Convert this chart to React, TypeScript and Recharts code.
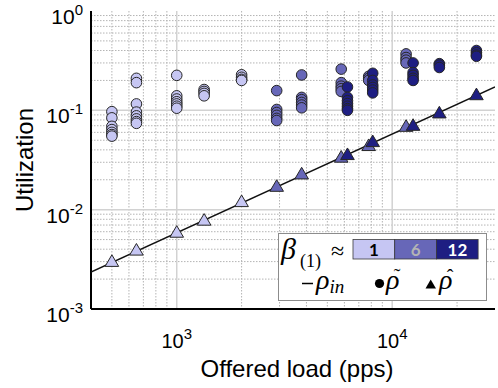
import React from 'react';
import { ScatterChart, Scatter, XAxis, YAxis, CartesianGrid } from 'recharts';

// ---- data ----
const loadsLight = [500, 650, 1000, 1340, 2000];
const loadsMed = [2910, 3800, 5800, 7780, 11600];
const loadsDark = [6200, 8120, 12500, 16550, 24600];

// measured utilization (circles), one list per load
const rhoTildeLight = [
  [0.097, 0.084, 0.069, 0.064, 0.06, 0.057, 0.055],
  [0.21, 0.19, 0.116, 0.096, 0.088, 0.082, 0.077, 0.074],
  [0.225, 0.14, 0.13, 0.122, 0.116, 0.11, 0.105],
  [0.162, 0.155, 0.148, 0.14],
  [0.228, 0.215, 0.205, 0.2],
];
const rhoTildeMed = [
  [0.158, 0.102, 0.095, 0.089, 0.083, 0.079],
  [0.227, 0.135, 0.128, 0.12, 0.113, 0.106],
  [0.26, 0.19, 0.175, 0.165, 0.155],
  [0.22, 0.21, 0.2],
  [0.37, 0.34, 0.32, 0.3],
];
const rhoTildeDark = [
  [0.172, 0.135, 0.125, 0.117, 0.11, 0.104, 0.1],
  [0.236, 0.2, 0.18, 0.17, 0.16, 0.15],
  [0.3, 0.24, 0.225, 0.21, 0.2],
  [0.295, 0.285, 0.27],
  [0.4, 0.38, 0.36, 0.35],
];

// estimated utilization (triangles)
const rhoHatLight = [0.003, 0.0039, 0.0059, 0.0078, 0.012];
const rhoHatMed = [0.0171, 0.0228, 0.0336, 0.044, 0.0687];
const rhoHatDark = [0.0357, 0.0482, 0.0703, 0.0937, 0.143];

// input utilization line
const rhoInLoad = [400, 30000];
const rhoInValue = [0.00235, 0.172];

// axes
const xDomain = [400, 30000];
const yDomain = [0.001, 1];
const xMajorTicks = [1000, 10000];
const xMinorTicks = [500, 600, 700, 800, 900, 2000, 3000, 4000, 5000, 6000, 7000, 8000, 9000, 20000];
const yMajorTicks = [0.001, 0.01, 0.1, 1];
const yMinorTicks = [
  0.002, 0.003, 0.004, 0.005, 0.006, 0.007, 0.008, 0.009,
  0.02, 0.03, 0.04, 0.05, 0.06, 0.07, 0.08, 0.09,
  0.2, 0.3, 0.4, 0.5, 0.6, 0.7, 0.8, 0.9,
];
const xTickExp: Record<number, string> = { 1000: '3', 10000: '4' };
const yTickExp: Record<number, string> = { 0.001: '-3', 0.01: '-2', 0.1: '-1', 1: '0' };
const betaLabels = ['1', '6', '12'];

const C_LIGHT = '#c6c6f3';
const C_MED = '#6767b8';
const C_DARK = '#1e1e82';
const FONT = '"Liberation Sans", Arial, sans-serif';
const SERIF = '"Liberation Serif", "DejaVu Serif", serif';

const circles = (loads: number[], vals: number[][]) =>
  loads.flatMap((l, i) => vals[i].map((v) => ({ x: l, y: v })));
const tris = (loads: number[], vals: number[]) => loads.map((l, i) => ({ x: l, y: vals[i] }));
const lineData = rhoInLoad.map((l, i) => ({ x: l, y: rhoInValue[i] }));

const Circle = (p: any) => (
  <circle cx={p.cx} cy={p.cy} r={5.3} fill={p.fill} stroke="#262626" strokeWidth={1} />
);
const Tri = (p: any) => (
  <polygon
    points={`${p.cx - 6.8},${p.cy + 4.8} ${p.cx + 6.8},${p.cy + 4.8} ${p.cx},${p.cy - 6.8}`}
    fill={p.fill}
    stroke="#262626"
    strokeWidth={1}
  />
);
const Nothing = () => <g />;

const XTick = (p: any) => (
  <text x={p.x} y={p.y + 37} textAnchor="middle" fontFamily={FONT} fontSize={20} fill="#000">
    10
    <tspan dy={-9} fontSize={15}>{xTickExp[p.payload.value]}</tspan>
  </text>
);
const YTick = (p: any) => (
  <text x={p.x - 6} y={p.y + 13} textAnchor="end" fontFamily={FONT} fontSize={21} fill="#000">
    10
    <tspan dy={-9} fontSize={15}>{yTickExp[p.payload.value]}</tspan>
  </text>
);

const tickAxisCommon = {
  type: 'number' as const,
  scale: 'log' as const,
  allowDataOverflow: true,
  tick: false,
  axisLine: false,
  interval: 0 as const,
  mirror: true,
  stroke: '#000',
};

export default function App() {
  return (
    <div style={{ position: 'absolute', left: 0, top: 0, width: 498, height: 388, background: '#fff' }}>
      <ScatterChart width={498} height={388} margin={{ top: 11, right: 3, left: 0, bottom: 0 }}>
        <CartesianGrid
          xAxisId="x"
          yAxisId="y"
          horizontalValues={yMinorTicks}
          verticalValues={xMinorTicks}
          stroke="#b4b4b4"
          strokeDasharray="1.5 1.5"
          strokeWidth={1}
        />
        <CartesianGrid
          xAxisId="x"
          yAxisId="y"
          horizontalValues={[0.01, 0.1]}
          verticalValues={xMajorTicks}
          stroke="#d2d2d2"
          strokeWidth={1.5}
        />
        <XAxis
          xAxisId="x"
          dataKey="x"
          type="number"
          scale="log"
          domain={xDomain}
          allowDataOverflow
          ticks={xMajorTicks}
          interval={0}
          tick={<XTick />}
          tickLine={false}
          tickSize={0}
          height={79}
          axisLine={{ stroke: '#000', strokeWidth: 2 }}
        />
        <YAxis
          yAxisId="y"
          dataKey="y"
          type="number"
          scale="log"
          domain={yDomain}
          allowDataOverflow
          ticks={yMajorTicks}
          interval={0}
          tick={<YTick />}
          tickLine={false}
          tickSize={0}
          width={91}
          axisLine={{ stroke: '#000', strokeWidth: 2 }}
        />
        {/* tick marks (inside) */}
        <XAxis xAxisId="xb1" {...tickAxisCommon} domain={xDomain} ticks={xMajorTicks} tickSize={6} height={0} orientation="bottom" />
        <XAxis xAxisId="xb2" {...tickAxisCommon} domain={xDomain} ticks={xMinorTicks} tickSize={3.5} height={0} orientation="bottom" />
        <XAxis xAxisId="xt1" {...tickAxisCommon} domain={xDomain} ticks={xMajorTicks} tickSize={6} height={0} orientation="top" axisLine={{ stroke: '#000', strokeWidth: 2 }} />
        <XAxis xAxisId="xt2" {...tickAxisCommon} domain={xDomain} ticks={xMinorTicks} tickSize={3.5} height={0} orientation="top" />
        <YAxis yAxisId="yl1" {...tickAxisCommon} domain={yDomain} ticks={yMajorTicks} tickSize={6} width={0} orientation="left" />
        <YAxis yAxisId="yl2" {...tickAxisCommon} domain={yDomain} ticks={yMinorTicks} tickSize={3.5} width={0} orientation="left" />
        <YAxis yAxisId="yr1" {...tickAxisCommon} domain={yDomain} ticks={yMajorTicks} tickSize={6} width={0} orientation="right" axisLine={{ stroke: '#000', strokeWidth: 2 }} />
        <YAxis yAxisId="yr2" {...tickAxisCommon} domain={yDomain} ticks={yMinorTicks} tickSize={3.5} width={0} orientation="right" />

        <Scatter xAxisId="x" yAxisId="y" data={lineData} line={{ stroke: '#111', strokeWidth: 1.4 }} shape={<Nothing />} isAnimationActive={false} />
        <Scatter xAxisId="x" yAxisId="y" data={circles(loadsLight, rhoTildeLight)} fill={C_LIGHT} shape={<Circle />} isAnimationActive={false} />
        <Scatter xAxisId="x" yAxisId="y" data={circles(loadsMed, rhoTildeMed)} fill={C_MED} shape={<Circle />} isAnimationActive={false} />
        <Scatter xAxisId="x" yAxisId="y" data={circles(loadsDark, rhoTildeDark)} fill={C_DARK} shape={<Circle />} isAnimationActive={false} />
        <Scatter xAxisId="x" yAxisId="y" data={tris(loadsLight, rhoHatLight)} fill={C_LIGHT} shape={<Tri />} isAnimationActive={false} />
        <Scatter xAxisId="x" yAxisId="y" data={tris(loadsMed, rhoHatMed)} fill={C_MED} shape={<Tri />} isAnimationActive={false} />
        <Scatter xAxisId="x" yAxisId="y" data={tris(loadsDark, rhoHatDark)} fill={C_DARK} shape={<Tri />} isAnimationActive={false} />
      </ScatterChart>

      <svg width={498} height={388} style={{ position: 'absolute', left: 0, top: 0, pointerEvents: 'none' }}>
        <text x={297} y={377} textAnchor="middle" fontFamily={FONT} fontSize={24} fill="#000">Offered load (pps)</text>
        <text transform="translate(33,160) rotate(-90)" textAnchor="middle" fontFamily={FONT} fontSize={24} fill="#000">Utilization</text>

        {/* legend */}
        <rect x={278.5} y={233.5} width={208} height={67} fill="#fff" stroke="#8c8c8c" strokeWidth={1} />
        <text x={281} y={259} fontFamily={SERIF} fontStyle="italic" fontSize={30} fill="#000">β</text>
        <text x={300} y={267} fontFamily={SERIF} fontSize={18} fill="#000">(1)</text>
        <text x={331} y={259} fontFamily={SERIF} fontSize={24} fill="#000">≈</text>
        {[C_LIGHT, C_MED, C_DARK].map((c, i) => (
          <rect key={c} x={353 + i * 41.7} y={239.5} width={41.7} height={19.5} fill={c} stroke="#3a3a3a" strokeWidth={0.8} />
        ))}
        {betaLabels.map((t, i) => (
          <text key={t} x={374 + i * 41.7} y={256} textAnchor="middle" fontFamily="Lato, 'Open Sans', sans-serif" fontWeight={700} fontSize={17} fill={['#000', '#b4b4b4', '#fff'][i]}>{t}</text>
        ))}
        <line x1={302} x2={313} y1={283.5} y2={283.5} stroke="#000" strokeWidth={1.5} />
        <text x={316} y={289} fontFamily={SERIF} fontStyle="italic" fontSize={28} fill="#000">ρ<tspan fontSize={19} dy={4}>in</tspan></text>
        <circle cx={379.5} cy={283.5} r={4.6} fill="#000" />
        <text x={386} y={289} fontFamily={SERIF} fontStyle="italic" fontSize={28} fill="#000">ρ</text>
        <text x={397} y={283} textAnchor="middle" fontFamily={SERIF} fontSize={20} fill="#000">˜</text>
        <polygon points="425.5,288.5 436,288.5 430.7,279.5" fill="#000" />
        <text x={439} y={289} fontFamily={SERIF} fontStyle="italic" fontSize={28} fill="#000">ρ</text>
        <text x={450} y={284} textAnchor="middle" fontFamily={SERIF} fontSize={20} fill="#000">ˆ</text>
      </svg>
    </div>
  );
}
